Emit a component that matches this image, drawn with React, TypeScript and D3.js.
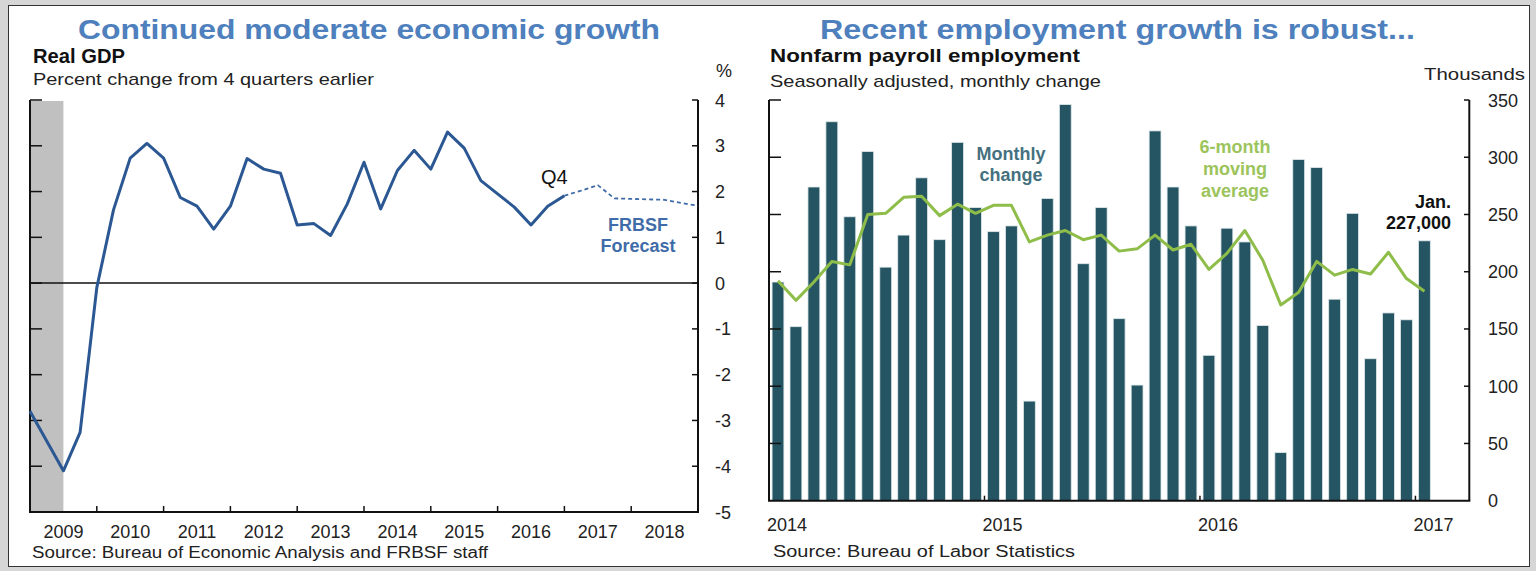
import React from "react";
import * as d3 from "d3";

// ---------- Left chart data: Real GDP, % change from 4 quarters earlier ----------
const gdpQuarters = [
  "2008Q4","2009Q1","2009Q2","2009Q3","2009Q4",
  "2010Q1","2010Q2","2010Q3","2010Q4",
  "2011Q1","2011Q2","2011Q3","2011Q4",
  "2012Q1","2012Q2","2012Q3","2012Q4",
  "2013Q1","2013Q2","2013Q3","2013Q4",
  "2014Q1","2014Q2","2014Q3","2014Q4",
  "2015Q1","2015Q2","2015Q3","2015Q4",
  "2016Q1","2016Q2","2016Q3","2016Q4",
];
const gdpValues = [
  -2.8, -3.45, -4.1, -3.26, -0.1,
  1.6, 2.73, 3.05, 2.73,
  1.87, 1.68, 1.18, 1.68,
  2.72, 2.49, 2.4, 1.27,
  1.3, 1.04, 1.73, 2.64,
  1.62, 2.46, 2.9, 2.49,
  3.3, 2.95, 2.24, 1.95,
  1.66, 1.27, 1.68, 1.91,
];
const forecastQuarters = ["2016Q4","2017Q1","2017Q2","2017Q3","2017Q4","2018Q1","2018Q2","2018Q3","2018Q4"];
const forecastValues = [1.91, 2.02, 2.14, 1.85, 1.84, 1.83, 1.82, 1.75, 1.69];
const gdpYears = ["2009","2010","2011","2012","2013","2014","2015","2016","2017","2018"];
const gdpYTicks = [4, 3, 2, 1, 0, -1, -2, -3, -4, -5];
const recession = [2007.92, 2009.5];

// ---------- Right chart data: Nonfarm payroll employment, monthly change (thousands) ----------
const payrollMonths = [
  "2014-01","2014-02","2014-03","2014-04","2014-05","2014-06","2014-07","2014-08","2014-09","2014-10","2014-11","2014-12",
  "2015-01","2015-02","2015-03","2015-04","2015-05","2015-06","2015-07","2015-08","2015-09","2015-10","2015-11","2015-12",
  "2016-01","2016-02","2016-03","2016-04","2016-05","2016-06","2016-07","2016-08","2016-09","2016-10","2016-11","2016-12",
  "2017-01",
];
const axisMonths = [...payrollMonths, "2017-02", "2017-03"];
const monthlyChange = [
  191, 152, 274, 331, 248, 305, 204, 232, 282, 228, 313, 256,
  235, 240, 87, 264, 346, 207, 256, 159, 101, 323, 274, 240,
  127, 238, 226, 153, 42, 298, 291, 176, 251, 124, 164, 158,
  227,
];
const movingAverage = [
  192, 175, 191, 209, 206, 250, 251, 265, 266, 249, 259, 251,
  258, 258, 226, 232, 236, 228, 232, 218, 220, 232, 219, 224,
  202, 216, 236, 210, 171, 182, 209, 197, 202, 198, 217, 194,
  183,
];
const payrollYears = ["2014", "2015", "2016", "2017"];
const payrollYTicks = [350, 300, 250, 200, 150, 100, 50, 0];

const qToYear = (q: string) => +q.slice(0, 4) + +q.slice(5) / 4;

const ARIAL = "'Liberation Sans', Arial, sans-serif";
const NARROW = "'Liberation Sans Narrow', 'Arial Narrow', 'Liberation Sans', sans-serif";

export default function App() {
  // Left scales
  const xL = d3.scaleLinear().domain([2009, 2019]).range([30, 698]);
  const yL = d3.scaleLinear().domain([-5, 4]).range([512, 100]);
  const clipYear = (v: number) => Math.max(2009, Math.min(2019, v));
  const gdpLine = d3
    .line<number>()
    .x((_, i) => xL(qToYear(gdpQuarters[i])))
    .y((d) => yL(d));
  const fcLine = d3
    .line<number>()
    .x((_, i) => xL(qToYear(forecastQuarters[i])))
    .y((d) => yL(d));

  // Right scales
  const xR = d3
    .scaleBand<string>()
    .domain(axisMonths)
    .range([769, 1469.3])
    .paddingInner(0.34)
    .paddingOuter(0.17);
  const step = xR.step();
  const monthStart = (m: string) => (xR(m) as number) - (step * 0.34) / 2;
  const yR = d3.scaleLinear().domain([0, 350]).range([500.7, 100]);
  const maLine = d3
    .line<number>()
    .x((_, i) => (xR(payrollMonths[i]) as number) + xR.bandwidth() / 2)
    .y((d) => yR(d));

  const barColor = "#255563";
  const lineBlue = "#2b5793";
  const green = "#8fbd4a";

  return (
    <svg
      width={1536}
      height={571}
      style={{ position: "absolute", left: 0, top: 0, display: "block" }}
    >
      <rect x={0} y={0} width={1536} height={571} fill="#d6d6d6" />
      <rect x={8.5} y={5.5} width={1521} height={561} fill="#ffffff" stroke="#333" strokeWidth={1} />

      {/* ---------- Titles ---------- */}
      <text x={369} y={39} textAnchor="middle" fontFamily={ARIAL} fontWeight="bold" fontSize={27}
        fill="#4e80bd" textLength={582} lengthAdjust="spacingAndGlyphs">
        Continued moderate economic growth
      </text>
      <text x={1117.5} y={39} textAnchor="middle" fontFamily={ARIAL} fontWeight="bold" fontSize={27}
        fill="#4e80bd" textLength={595} lengthAdjust="spacingAndGlyphs">
        Recent employment growth is robust...
      </text>

      {/* ---------- Left chart ---------- */}
      <text x={33} y={63} fontFamily={NARROW} fontWeight="bold" fontSize={20} fill="#111"
        textLength={92} lengthAdjust="spacingAndGlyphs">Real GDP</text>
      <text x={33} y={85} fontFamily={NARROW} fontSize={17} fill="#222"
        textLength={341} lengthAdjust="spacingAndGlyphs">Percent change from 4 quarters earlier</text>
      <text x={716} y={77} fontFamily={NARROW} fontSize={18} fill="#222">%</text>

      <rect x={xL(clipYear(recession[0]))} y={yL(4) + 1} width={xL(clipYear(recession[1])) - xL(clipYear(recession[0]))}
        height={yL(-5) - yL(4) - 1} fill="#c0c0c0" />

      {/* zero line */}
      <line x1={xL(2009)} x2={xL(2019)} y1={yL(0)} y2={yL(0)} stroke="#111" strokeWidth={1.5} />

      {/* axes */}
      <line x1={xL(2009)} x2={xL(2009)} y1={yL(4)} y2={yL(-5)} stroke="#111" strokeWidth={2} />
      <line x1={xL(2019)} x2={xL(2019)} y1={yL(4)} y2={yL(-5)} stroke="#111" strokeWidth={2} />
      <line x1={xL(2009) - 1} x2={xL(2019) + 1} y1={yL(-5)} y2={yL(-5)} stroke="#111" strokeWidth={2} />
      {gdpYTicks.map((t) => (
        <g key={"lt" + t}>
          <line x1={xL(2009)} x2={xL(2009) + 12} y1={yL(t)} y2={yL(t)} stroke="#111" strokeWidth={1.5} />
          <line x1={xL(2019) - 6} x2={xL(2019)} y1={yL(t)} y2={yL(t)} stroke="#111" strokeWidth={1.5} />
          <text x={715} y={yL(t) + 6.5} fontFamily={ARIAL} fontSize={18} fill="#222">{t}</text>
        </g>
      ))}
      {gdpYears.map((y) => (
        <g key={"ly" + y}>
          {+y > 2009 && (
            <line x1={xL(+y)} x2={xL(+y)} y1={yL(-5)} y2={yL(-5) - 6} stroke="#111" strokeWidth={1.5} />
          )}
          <text x={xL(+y + 0.5)} y={538} textAnchor="middle" fontFamily={ARIAL} fontSize={18} fill="#222">{y}</text>
        </g>
      ))}

      <path d={gdpLine(gdpValues) || ""} fill="none" stroke={lineBlue} strokeWidth={3} strokeLinejoin="round" />
      <path d={fcLine(forecastValues) || ""} fill="none" stroke="#3f6ca8" strokeWidth={1.8} strokeDasharray="4 3" />

      <text x={541} y={184} fontFamily={ARIAL} fontSize={20} fill="#111">Q4</text>
      <text x={638} y={231} textAnchor="middle" fontFamily={ARIAL} fontWeight="bold" fontSize={18} fill="#3f6ca8">FRBSF</text>
      <text x={638} y={252} textAnchor="middle" fontFamily={ARIAL} fontWeight="bold" fontSize={18} fill="#3f6ca8">Forecast</text>

      <text x={32} y={558} fontFamily={ARIAL} fontSize={16} fill="#222" textLength={456} lengthAdjust="spacingAndGlyphs">
        Source: Bureau of Economic Analysis and FRBSF staff
      </text>

      {/* ---------- Right chart ---------- */}
      <text x={770} y={62} fontFamily={NARROW} fontWeight="bold" fontSize={19} fill="#111"
        textLength={310} lengthAdjust="spacingAndGlyphs">Nonfarm payroll employment</text>
      <text x={770} y={87} fontFamily={NARROW} fontSize={17} fill="#222"
        textLength={331} lengthAdjust="spacingAndGlyphs">Seasonally adjusted, monthly  change</text>
      <text x={1424} y={80} fontFamily={NARROW} fontSize={17} fill="#222"
        textLength={101} lengthAdjust="spacingAndGlyphs">Thousands</text>

      {payrollMonths.map((m, i) => (
        <rect key={m} x={xR(m)} y={yR(monthlyChange[i])} width={xR.bandwidth()}
          height={yR(0) - yR(monthlyChange[i])} fill={barColor} stroke="#dfe8ea" strokeWidth={0.8} />
      ))}

      <line x1={769} x2={769} y1={yR(350)} y2={yR(0)} stroke="#111" strokeWidth={2} />
      <line x1={1469.3} x2={1469.3} y1={yR(350)} y2={yR(0)} stroke="#111" strokeWidth={2} />
      <line x1={768} x2={1470.3} y1={yR(0)} y2={yR(0)} stroke="#111" strokeWidth={2} />
      {payrollYTicks.map((t) => (
        <g key={"rt" + t}>
          {t > 0 && <line x1={769} x2={781} y1={yR(t)} y2={yR(t)} stroke="#111" strokeWidth={1.5} />}
          {t > 0 && <line x1={1464} x2={1469.3} y1={yR(t)} y2={yR(t)} stroke="#111" strokeWidth={1.5} />}
          <text x={1488} y={yR(t) + 6.5} fontFamily={ARIAL} fontSize={18} fill="#222">{t}</text>
        </g>
      ))}
      {payrollYears.map((y) => {
        const xs = monthStart(y + "-01");
        return (
          <g key={"ry" + y}>
            {y !== "2014" && <line x1={xs} x2={xs} y1={yR(0)} y2={yR(0) - 5} stroke="#111" strokeWidth={1.5} />}
            <text x={xs - 2} y={531} fontFamily={ARIAL} fontSize={18} fill="#222">{y}</text>
          </g>
        );
      })}

      <path d={maLine(movingAverage) || ""} fill="none" stroke={green} strokeWidth={3} strokeLinejoin="round" />

      <text x={1011} y={160} textAnchor="middle" fontFamily={ARIAL} fontWeight="bold" fontSize={18} fill="#45717f">Monthly</text>
      <text x={1011} y={181} textAnchor="middle" fontFamily={ARIAL} fontWeight="bold" fontSize={18} fill="#45717f">change</text>
      <text x={1235} y={153} textAnchor="middle" fontFamily={ARIAL} fontWeight="bold" fontSize={18} fill="#9cc45c">6-month</text>
      <text x={1235} y={175} textAnchor="middle" fontFamily={ARIAL} fontWeight="bold" fontSize={18} fill="#9cc45c">moving</text>
      <text x={1235} y={197} textAnchor="middle" fontFamily={ARIAL} fontWeight="bold" fontSize={18} fill="#9cc45c">average</text>
      <text x={1451} y={208} textAnchor="end" fontFamily={ARIAL} fontWeight="bold" fontSize={18} fill="#111">Jan.</text>
      <text x={1451} y={229} textAnchor="end" fontFamily={ARIAL} fontWeight="bold" fontSize={18} fill="#111">227,000</text>

      <text x={773} y={557} fontFamily={ARIAL} fontSize={16} fill="#222" textLength={302} lengthAdjust="spacingAndGlyphs">
        Source: Bureau of Labor Statistics
      </text>
    </svg>
  );
}
